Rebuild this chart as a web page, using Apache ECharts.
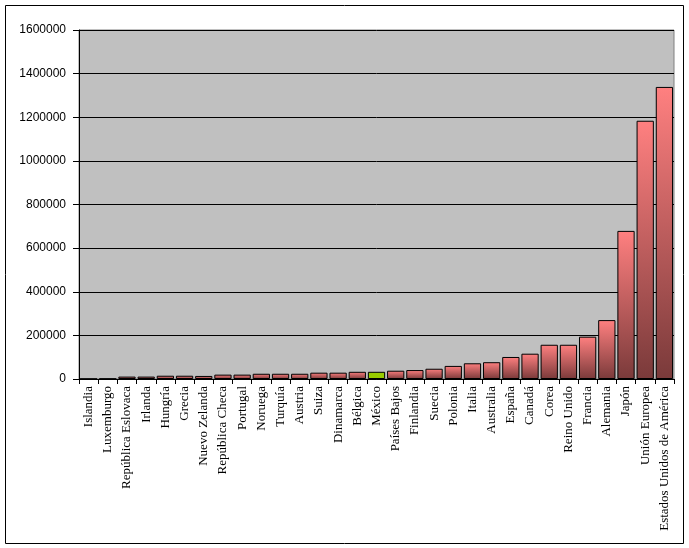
<!DOCTYPE html>
<html>
<head>
<meta charset="utf-8">
<script src="https://cdn.jsdelivr.net/npm/echarts@6/dist/echarts.min.js"></script>
<style>html,body{margin:0;padding:0;background:#fff}#c{width:689px;height:548px}</style>
</head>
<body>
<div id="c"></div>
<script>
const categories = ["Islandia","Luxemburgo","República Eslovaca","Irlanda","Hungría","Grecia","Nuevo Zelanda","República Checa","Portugal","Noruega","Turquía","Austria","Suiza","Dinamarca","Bélgica","México","Países Bajos","Finlandia","Suecia","Polonia","Italia","Australia","España","Canadá","Corea","Reino Unido","Francia","Alemania","Japón","Unión Europea","Estados Unidos de América"];
const values = [1000,1500,11000,11000,15000,15000,14000,20000,20000,24000,24000,24000,29000,29000,33000,33000,38000,41000,47000,60000,72000,77000,101000,116000,157000,157000,194000,270000,679000,1184000,1339000];
const highlight = "México";
const yTicks = {min:0, max:1600000, interval:200000};

const grad = new echarts.graphic.LinearGradient(0,0,0,1,[{offset:0,color:'#FF8080'},{offset:1,color:'#7A3A3A'}]);
const data = categories.map((c,i)=>({
  value: values[i],
  itemStyle: c===highlight ? {color:'#99CC00'} : {color: grad}
}));

const chart = echarts.init(document.getElementById('c'));
chart.setOption({
  animation:false,
  backgroundColor:'#fff',
  graphic:[{type:'rect',shape:{x:5.5,y:5.5,width:678,height:538},style:{fill:null,stroke:'#000',lineWidth:1},silent:true,z:-1}],
  grid:{left:79,top:30,right:15,bottom:169,show:true,backgroundColor:'#C0C0C0',borderColor:'#808080',borderWidth:1},
  xAxis:{type:'category',data:categories,
    axisLine:{lineStyle:{color:'#000'}},
    axisTick:{show:true,length:5,lineStyle:{color:'#000'}},
    axisLabel:{rotate:90,interval:0,fontFamily:'Liberation Serif',fontSize:13,color:'#000',margin:7}},
  yAxis:{type:'value',min:yTicks.min,max:yTicks.max,interval:yTicks.interval,
    axisLine:{show:true,lineStyle:{color:'#000'}},
    axisTick:{show:true,length:6,lineStyle:{color:'#000'}},
    splitLine:{lineStyle:{color:'#000',width:1}},
    axisLabel:{fontFamily:'Liberation Sans',fontSize:12,color:'#000',margin:13,formatter:v=>String(v)}},
  series:[{type:'bar',data:data,barCategoryGap:'10%',itemStyle:{borderColor:'#000',borderWidth:1}}]
});
</script>
</body>
</html>
